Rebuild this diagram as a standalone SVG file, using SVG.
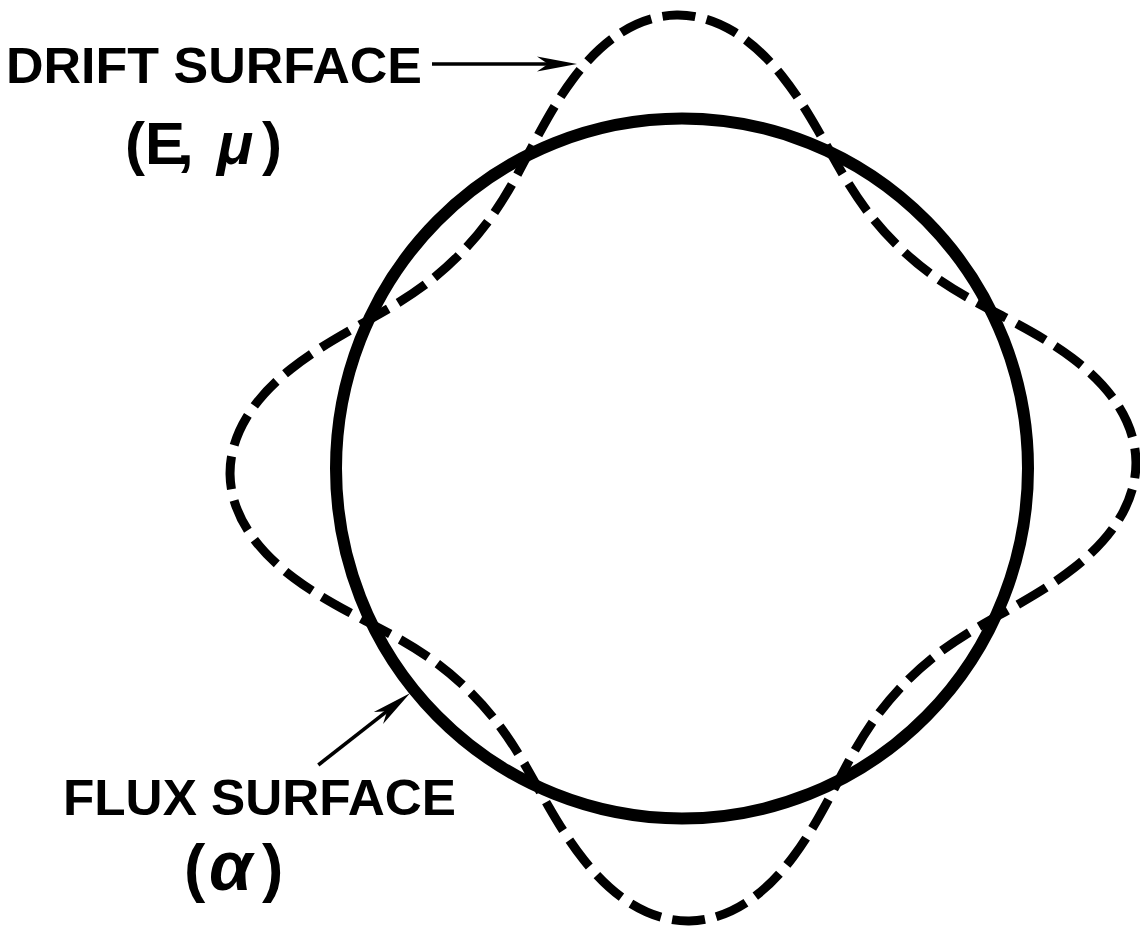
<svg xmlns="http://www.w3.org/2000/svg" width="1140" height="928" viewBox="0 0 1140 928">
<style>
.lbl{font-family:"Liberation Sans",Arial,sans-serif;font-weight:bold;fill:#000}
.solid{fill:none;stroke:#000;stroke-width:12}
.dash{fill:none;stroke:#000;stroke-width:9;stroke-dasharray:33 11.47;stroke-dashoffset:16.5}
.lead{fill:none;stroke:#000;stroke-width:3.6}
</style>
<defs>
<marker id="head" markerUnits="userSpaceOnUse" markerWidth="60" markerHeight="30" viewBox="-15 -15 50 30" refX="0" refY="0" orient="auto" overflow="visible">
<path d="M29,0 L-11,-7.5 L0,0 L-11,7.5 Z" fill="#000"/>
</marker>
</defs>
<rect width="1140" height="928" fill="#fff"/>
<g id="flux-surface">
<ellipse class="solid" cx="682" cy="468.5" rx="346" ry="350"/>
</g>
<g id="drift-surface" transform="translate(683,468) rotate(-0.8)">
<path class="dash" d="M453,0
C453,19.8 446.6,39.5 435.3,57.3
C424.1,75.2 408,91.1 390.5,104.6
C372.9,118.2 354,129.4 336.3,139.3
C318.6,149.2 302.2,157.7 287.7,166.1
C273.3,174.5 260.7,182.8 249.4,191.4
C238.1,200 228,209 218.5,218.5
C209,228 200,238.1 191.4,249.4
C182.8,260.7 174.5,273.3 166.1,287.7
C157.7,302.2 149.2,318.6 139.3,336.3
C129.4,354 118.2,372.9 104.6,390.5
C91.1,408 75.2,424.1 57.3,435.3
C39.5,446.6 19.8,453 0,453
C-19.8,453 -39.5,446.6 -57.3,435.3
C-75.2,424.1 -91.1,408 -104.6,390.5
C-118.2,372.9 -129.4,354 -139.3,336.3
C-149.2,318.6 -157.7,302.2 -166.1,287.7
C-174.5,273.3 -182.8,260.7 -191.4,249.4
C-200,238.1 -209,228 -218.5,218.5
C-228,209 -238.1,200 -249.4,191.4
C-260.7,182.8 -273.3,174.5 -287.7,166.1
C-302.2,157.7 -318.6,149.2 -336.3,139.3
C-354,129.4 -372.9,118.2 -390.5,104.6
C-408,91.1 -424.1,75.2 -435.3,57.3
C-446.6,39.5 -453,19.8 -453,0
C-453,-19.8 -446.6,-39.5 -435.3,-57.3
C-424.1,-75.2 -408,-91.1 -390.5,-104.6
C-372.9,-118.2 -354,-129.4 -336.3,-139.3
C-318.6,-149.2 -302.2,-157.7 -287.7,-166.1
C-273.3,-174.5 -260.7,-182.8 -249.4,-191.4
C-238.1,-200 -228,-209 -218.5,-218.5
C-209,-228 -200,-238.1 -191.4,-249.4
C-182.8,-260.7 -174.5,-273.3 -166.1,-287.7
C-157.7,-302.2 -149.2,-318.6 -139.3,-336.3
C-129.4,-354 -118.2,-372.9 -104.6,-390.5
C-91.1,-408 -75.2,-424.1 -57.3,-435.3
C-39.5,-446.6 -19.8,-453 0,-453
C19.8,-453 39.5,-446.6 57.3,-435.3
C75.2,-424.1 91.1,-408 104.6,-390.5
C118.2,-372.9 129.4,-354 139.3,-336.3
C149.2,-318.6 157.7,-302.2 166.1,-287.7
C174.5,-273.3 182.8,-260.7 191.4,-249.4
C200,-238.1 209,-228 218.5,-218.5
C228,-209 238.1,-200 249.4,-191.4
C260.7,-182.8 273.3,-174.5 287.7,-166.1
C302.2,-157.7 318.6,-149.2 336.3,-139.3
C354,-129.4 372.9,-118.2 390.5,-104.6
C408,-91.1 424.1,-75.2 435.3,-57.3
C446.6,-39.5 453,-19.8 453,0Z"/>
</g>
<g id="label-drift">
<text class="lbl" x="6" y="83" font-size="50" textLength="416" lengthAdjust="spacingAndGlyphs">DRIFT SURFACE</text>
<text class="lbl" x="125 145 177 192 217 262" y="164" font-size="60">(E, <tspan font-style="italic">μ</tspan>)</text>
</g>
<g id="label-flux">
<text class="lbl" x="63" y="815" font-size="50" textLength="393" lengthAdjust="spacingAndGlyphs">FLUX SURFACE</text>
<text class="lbl" x="184 209 262" y="890" font-size="64">(<tspan font-style="italic" font-size="70">α</tspan>)</text>
</g>
<g id="connectors">
<line class="lead" x1="432" y1="64" x2="548" y2="64" marker-end="url(#head)"/>
<line class="lead" x1="318.3" y1="765" x2="387.1" y2="711.2" marker-end="url(#head)"/>
</g>
</svg>
